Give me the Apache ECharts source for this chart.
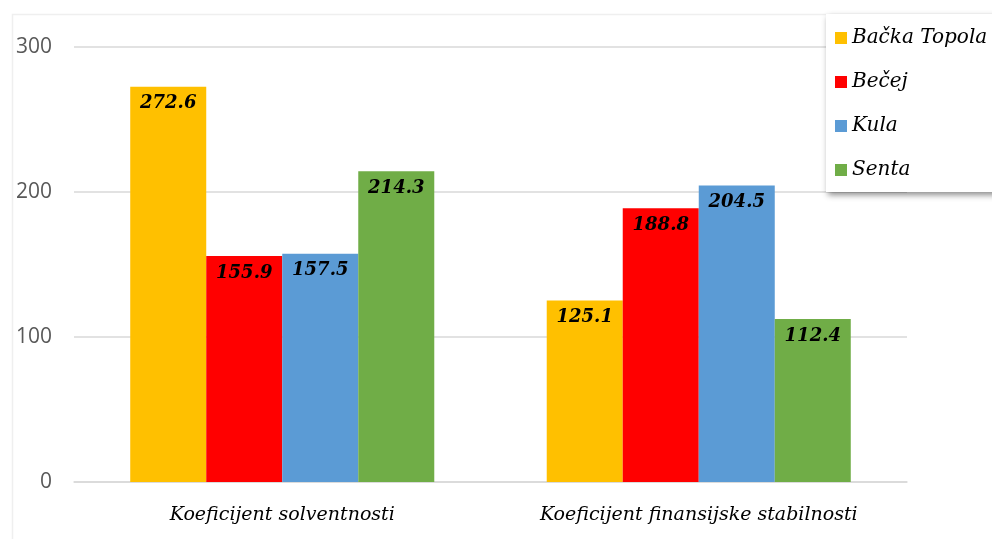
<!DOCTYPE html>
<html>
<head>
<meta charset="utf-8">
<script src="https://cdn.jsdelivr.net/npm/echarts@6/dist/echarts.min.js"></script>
<style>
  html, body { margin: 0; padding: 0; background: #fff; }
  #main { width: 992px; height: 539px; }
</style>
</head>
<body>
<div id="main"></div>
<script>
var categories = ['Koeficijent solventnosti', 'Koeficijent finansijske stabilnosti']
var seriesNames = ['Bačka Topola', 'Bečej', 'Kula', 'Senta']
var backaTopola = [272.6, 125.1]
var becej = [155.9, 188.8]
var kula = [157.5, 204.5]
var senta = [214.3, 112.4]
var colors = ['#FFC000', '#FF0000', '#5B9BD5', '#70AD47']

var serifFont = '"DejaVu Serif", serif'
var chart = echarts.init(document.getElementById('main'))

function barSeries(name, data, color) {
  return {
    name: name,
    type: 'bar',
    data: data,
    barGap: '0%',
    barCategoryGap: '27%',
    itemStyle: { color: color },
    label: {
      show: true,
      position: 'insideTop',
      distance: 8,
      formatter: function (p) { return p.value.toFixed(1) },
      color: '#000',
      fontFamily: serifFont,
      fontStyle: 'italic',
      fontWeight: 'bold',
      fontSize: 18,
    },
  }
}

var option = {
  backgroundColor: '#fff',
  animation: false,
  color: colors,
  // faint outer frame like the source image
  graphic: [{
    type: 'rect',
    left: 10,
    top: 12,
    shape: { width: 1000, height: 600 },
    style: { fill: 'none', stroke: '#efefef', lineWidth: 1.5 },
    z: -1,
  }],
  grid: { left: 74, right: 85, top: 47, bottom: 57 },
  legend: {
    orient: 'vertical',
    left: 826,
    top: 14,
    padding: [12, 40, 10, 9],
    itemWidth: 12,
    itemHeight: 12,
    itemGap: 20,
    itemStyle: { borderWidth: 0 },
    icon: 'rect',
    backgroundColor: '#fff',
    shadowColor: 'rgba(0,0,0,0.45)',
    shadowBlur: 6,
    shadowOffsetX: 2,
    shadowOffsetY: 3,
    textStyle: {
      fontFamily: serifFont,
      fontStyle: 'italic',
      fontSize: 20,
      lineHeight: 24,
      color: '#000',
    },
    data: seriesNames,
  },
  xAxis: {
    type: 'category',
    data: categories,
    axisLine: { lineStyle: { color: '#d9d9d9', width: 1.5 } },
    axisTick: { show: false },
    axisLabel: {
      margin: 24,
      color: '#000',
      fontFamily: serifFont,
      fontStyle: 'italic',
      fontSize: 19,
    },
  },
  yAxis: {
    type: 'value',
    min: 0,
    max: 300,
    interval: 100,
    axisLine: { show: false },
    axisTick: { show: false },
    splitLine: { lineStyle: { color: '#d9d9d9', width: 1.5 } },
    axisLabel: {
      margin: 22,
      color: '#595959',
      fontFamily: '"Open Sans", sans-serif',
      fontSize: 21,
    },
  },
  series: [
    barSeries(seriesNames[0], backaTopola, colors[0]),
    barSeries(seriesNames[1], becej, colors[1]),
    barSeries(seriesNames[2], kula, colors[2]),
    barSeries(seriesNames[3], senta, colors[3]),
  ],
}

chart.setOption(option)
</script>
</body>
</html>
